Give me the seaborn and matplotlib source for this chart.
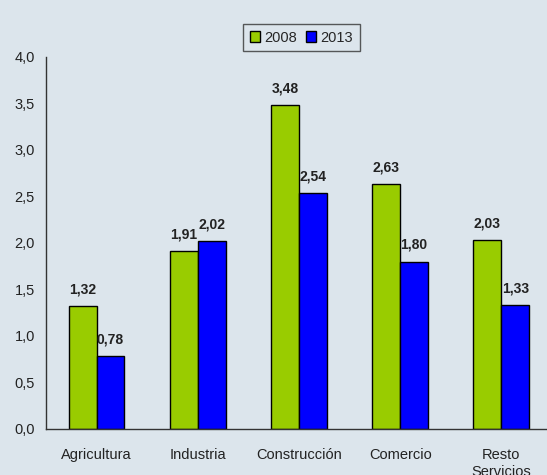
import matplotlib
matplotlib.use("Agg")
import matplotlib.pyplot as plt
import seaborn as sns
import pandas as pd
from matplotlib.ticker import FixedLocator, FuncFormatter

categories = ["Agricultura", "Industria", "Construcción", "Comercio", "Resto\nServicios"]
series = ["2008", "2013"]
v2008 = [1.32, 1.91, 3.48, 2.63, 2.03]
v2013 = [0.78, 2.02, 2.54, 1.80, 1.33]

df = pd.DataFrame({
    "cat": categories * 2,
    "year": [series[0]] * 5 + [series[1]] * 5,
    "val": v2008 + v2013,
})

sns.set_style("white")
plt.rcParams['font.family'] = ['Liberation Sans', 'DejaVu Sans']
bg = "#dce5ec"
fig = plt.figure(figsize=(5.47, 4.75), dpi=100, facecolor=bg)
ax = fig.add_axes([0.084, 0.097, 0.925, 0.783], facecolor=bg)

sns.barplot(data=df, x="cat", y="val", hue="year", order=categories,
            hue_order=series, palette=["#99cc00", "#0000ff"], width=0.55,
            edgecolor="black", linewidth=1.0, ax=ax, saturation=1)

for cont in ax.containers:
    labels = [f"{b.get_height():.2f}".replace(".", ",") for b in cont]
    ax.bar_label(cont, labels=labels, padding=7, fontsize=10, fontweight="bold", color="#222222")

ax.set_ylim(0, 4.0)
ax.set_xlim(-0.5, 4.5)
ax.set_yticks([0, 0.5, 1.0, 1.5, 2.0, 2.5, 3.0, 3.5, 4.0])
ax.yaxis.set_major_formatter(FuncFormatter(lambda v, p: f"{v:.1f}".replace(".", ",")))
ax.xaxis.set_major_locator(FixedLocator([-0.5, 0.5, 1.5, 2.5, 3.5, 4.5]))
ax.xaxis.set_major_formatter(FuncFormatter(lambda v, p: ""))
ax.xaxis.set_minor_locator(FixedLocator(range(len(categories))))
ax.set_xticklabels(categories, minor=True)
ax.tick_params(axis="x", which="minor", length=0, pad=14, labelsize=10.5, colors="#222222")
ax.tick_params(axis="x", which="major", length=5, width=1, direction="out", color="#333333")
ax.tick_params(axis="y", length=4, width=1, direction="out", labelsize=10.5, labelcolor="#222222", color="#333333", pad=4)
ax.set_xlabel("")
ax.set_ylabel("")
for s in ["top", "right"]:
    ax.spines[s].set_visible(False)
for s in ["left", "bottom"]:
    ax.spines[s].set_color("#333333")
    ax.spines[s].set_linewidth(1)

leg = ax.legend(loc="upper center", bbox_to_anchor=(0.505, 1.108), ncol=2, frameon=True,
                fontsize=10.5, handlelength=0.7, handleheight=0.7, handletextpad=0.3,
                columnspacing=0.6, borderpad=0.45, fancybox=False, title=None)
leg.get_frame().set_edgecolor("#333333")
leg.get_frame().set_facecolor(bg)
leg.get_frame().set_linewidth(1)

fig.savefig("out.png", dpi=100, facecolor=bg)
